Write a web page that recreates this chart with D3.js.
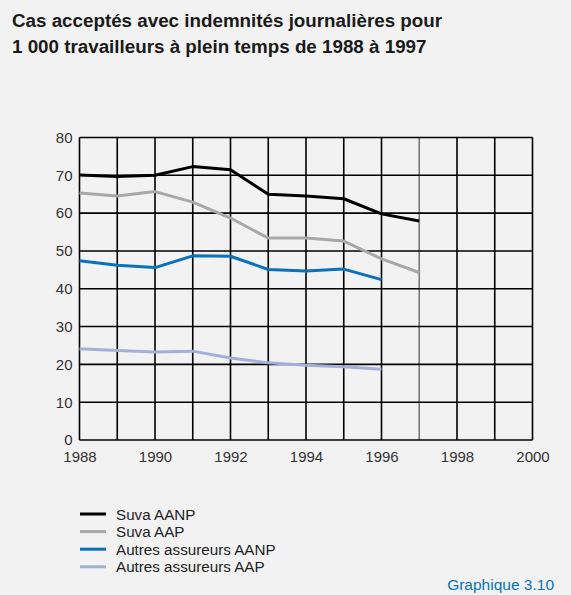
<!DOCTYPE html>
<html><head><meta charset="utf-8">
<script src="https://cdn.jsdelivr.net/npm/d3@7"></script>
<style>
html,body{margin:0;padding:0;background:#f2f2f2;}
svg{display:block;font-family:"Liberation Sans",Arial,sans-serif;}
</style></head>
<body>
<script>
const years = [1988,1989,1990,1991,1992,1993,1994,1995,1996,1997];
const suvaAANP = [70.1,69.7,70.0,72.3,71.5,65.0,64.5,63.8,59.8,57.9];
const suvaAAP = [65.3,64.5,65.7,62.9,58.7,53.4,53.4,52.6,47.9,44.3];
const autresAANP = [47.4,46.2,45.6,48.7,48.6,45.1,44.7,45.2,42.4];
const autresAAP = [24.1,23.7,23.3,23.5,21.7,20.4,19.8,19.4,18.7];
const seriesNames = ["Suva AANP","Suva AAP","Autres assureurs AANP","Autres assureurs AAP"];
const seriesColors = ["#000000","#a8a8a8","#0a72bb","#a3b0da"];
const xTicks = [1988,1990,1992,1994,1996,1998,2000];
const yTicks = [0,10,20,30,40,50,60,70,80];
const titleLines = ["Cas acceptés avec indemnités journalières pour","1 000 travailleurs à plein temps de 1988 à 1997"];

const W=571,H=595;
const svg=d3.select("body").append("svg").attr("width",W).attr("height",H);
svg.append("rect").attr("width",W).attr("height",H).attr("fill","#f2f2f2");

const x=d3.scaleLinear().domain([1988,2000]).range([79.5,532.5]);
const y=d3.scaleLinear().domain([0,80]).range([440,137.5]);

// title
svg.append("g").selectAll("text").data(titleLines).join("text")
  .attr("x",12).attr("y",(d,i)=>27+i*26)
  .attr("font-size",18.8).attr("font-weight","bold").attr("fill","#1a1a1a")
  .text(d=>d);

// grid
const g=svg.append("g");
g.selectAll("line.v").data(d3.range(1988,2001)).join("line")
  .attr("x1",d=>x(d)).attr("x2",d=>x(d)).attr("y1",y(0)).attr("y2",y(80))
  .attr("stroke",d=>d===1997?"#777":"#000").attr("stroke-width",1.6);
g.selectAll("line.h").data(yTicks).join("line")
  .attr("x1",x(1988)).attr("x2",x(2000)).attr("y1",d=>y(d)).attr("y2",d=>y(d))
  .attr("stroke","#000").attr("stroke-width",1.6);

// axes labels
const yAxis=d3.axisLeft(y).tickValues(yTicks).tickSize(0).tickPadding(7);
const ya=svg.append("g").attr("transform",`translate(${x(1988)},0)`).call(yAxis);
ya.select(".domain").remove();
ya.selectAll("text").attr("font-size",15).attr("fill","#333").attr("font-family","'Liberation Sans',Arial,sans-serif");
const xAxis=d3.axisBottom(x).tickValues(xTicks).tickFormat(d3.format("d")).tickSize(0).tickPadding(11);
const xa=svg.append("g").attr("transform",`translate(0,${y(0)})`).call(xAxis);
xa.select(".domain").remove();
xa.selectAll("text").attr("font-size",15).attr("fill","#333").attr("font-family","'Liberation Sans',Arial,sans-serif");

// lines
const allSeries=[suvaAANP,suvaAAP,autresAANP,autresAAP];
const line=d3.line().x((d,i)=>x(years[i])).y(d=>y(d));
svg.append("g").selectAll("path").data(allSeries).join("path")
  .attr("d",d=>line(d)).attr("fill","none")
  .attr("stroke",(d,i)=>seriesColors[i]).attr("stroke-width",3).attr("stroke-linejoin","round");

// legend
const lg=svg.append("g").selectAll("g").data(seriesNames).join("g")
  .attr("transform",(d,i)=>`translate(80,${514+i*17.6})`);
lg.append("line").attr("x1",0).attr("x2",26).attr("y1",0).attr("y2",0)
  .attr("stroke",(d,i)=>seriesColors[i]).attr("stroke-width",3);
lg.append("text").attr("x",36).attr("y",5.5).attr("font-size",15.2).attr("fill","#222").text(d=>d);

svg.append("text").attr("x",554).attr("y",590).attr("text-anchor","end")
  .attr("font-size",15.5).attr("fill","#0a72bb").text("Graphique 3.10");
</script>
</body></html>
